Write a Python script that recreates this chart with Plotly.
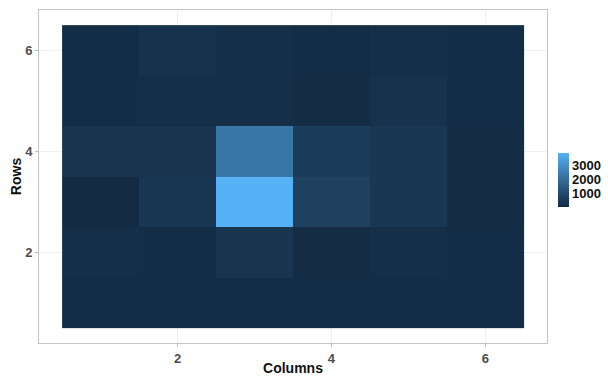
import numpy as np
import plotly.graph_objects as go

columns = [1, 2, 3, 4, 5, 6]
rows = [1, 2, 3, 4, 5, 6]
# counts[row_index][col_index], rows from bottom (1) to top (6)
counts = [
    [90, 90, 90, 85, 90, 90],
    [140, 120, 300, 60, 150, 90],
    [10, 400, 3860, 700, 380, 60],
    [300, 300, 2300, 550, 380, 60],
    [100, 130, 130, 70, 230, 120],
    [90, 250, 130, 90, 130, 120],
]
x_ticks = [2, 4, 6]
y_ticks = [2, 4, 6]
cbar_ticks = [1000, 2000, 3000]


def hex_to_rgb(h):
    h = h.lstrip('#')
    return np.array([int(h[i:i + 2], 16) / 255 for i in (0, 2, 4)])


def srgb_to_lin(c):
    return np.where(c <= 0.04045, c / 12.92, ((c + 0.055) / 1.055) ** 2.4)


def lin_to_srgb(c):
    c = np.clip(c, 0, 1)
    return np.where(c <= 0.0031308, 12.92 * c, 1.055 * c ** (1 / 2.4) - 0.055)


M = np.array([[0.4124, 0.3576, 0.1805], [0.2126, 0.7152, 0.0722], [0.0193, 0.1192, 0.9505]])
Minv = np.linalg.inv(M)
WP = np.array([0.95047, 1.0, 1.08883])


def f(t):
    return np.where(t > (6 / 29) ** 3, np.cbrt(t), t / (3 * (6 / 29) ** 2) + 4 / 29)


def finv(t):
    return np.where(t > 6 / 29, t ** 3, 3 * (6 / 29) ** 2 * (t - 4 / 29))


def rgb_to_lab(rgb):
    xyz = M @ srgb_to_lin(rgb) / WP
    fx, fy, fz = f(xyz)
    return np.array([116 * fy - 16, 500 * (fx - fy), 200 * (fy - fz)])


def lab_to_rgb(lab):
    L, a, b = lab
    fy = (L + 16) / 116
    fx = fy + a / 500
    fz = fy - b / 200
    xyz = np.array([finv(fx), finv(fy), finv(fz)]) * WP
    return lin_to_srgb(Minv @ xyz)


lo = rgb_to_lab(hex_to_rgb('#132B43'))
hi = rgb_to_lab(hex_to_rgb('#56B1F7'))
colorscale = []
for t in np.linspace(0, 1, 11):
    r, g, b = (lab_to_rgb(lo + (hi - lo) * t) * 255).round().astype(int)
    colorscale.append([float(t), f'rgb({r},{g},{b})'])

FONT = 'Liberation Sans, Arial'

fig = go.Figure(go.Heatmap(
    x=columns, y=rows, z=counts,
    colorscale=colorscale,
    colorbar=dict(
        tickvals=cbar_ticks,
        ticktext=[str(v) for v in cbar_ticks],
        ticks='',
        thickness=11,
        len=54,
        lenmode='pixels',
        x=1.021,
        xanchor='left',
        xpad=0,
        y=0.489,
        yanchor='middle',
        ypad=0,
        outlinewidth=0,
        tickfont=dict(family=FONT, size=13, color='#111111', weight='bold'),
    ),
    showscale=True,
))

axis_common = dict(
    showline=True, mirror=True, linecolor='#C4C4C4', linewidth=1,
    showgrid=True, gridcolor='#F0F0F0', gridwidth=1,
    minor=dict(showgrid=True, gridcolor='#F7F7F7', dtick=2),
    ticks='outside', ticklen=3, tickcolor='#BBBBBB',
    zeroline=False, automargin=False,
    tickfont=dict(family=FONT, size=13, color='#4D4D4D', weight='bold'),
)

fig.update_layout(
    width=608, height=376,
    margin=dict(l=39, r=57, t=10, b=33),
    paper_bgcolor='white', plot_bgcolor='white',
    xaxis=dict(range=[0.2, 6.8], tickvals=x_ticks, **axis_common,
               title=dict(text='Columns', standoff=0,
                          font=dict(family=FONT, size=14, color='#111111', weight='bold'))),
    yaxis=dict(range=[0.2, 6.8], tickvals=y_ticks, **axis_common,
               title=dict(text='Rows', standoff=0,
                          font=dict(family=FONT, size=14, color='#111111', weight='bold'))),
)

fig.write_html('out.html')
